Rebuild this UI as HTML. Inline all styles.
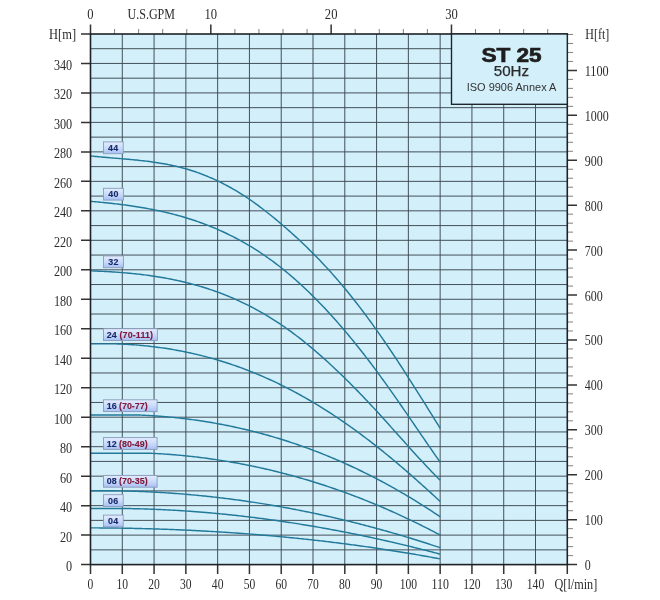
<!DOCTYPE html><html><head><meta charset="utf-8"><style>html,body{margin:0;padding:0;background:#fff;}svg{display:block;will-change:transform}</style></head><body>
<svg width="660" height="600" viewBox="0 0 660 600">
<defs><linearGradient id="lb" x1="0" y1="0" x2="0" y2="1"><stop offset="0" stop-color="#e2ecfd"/><stop offset="0.55" stop-color="#c8d9fa"/><stop offset="1" stop-color="#a6bff3"/></linearGradient></defs>
<rect x="90.5" y="34" width="476.79" height="530.60" fill="#d3effa"/>
<path d="M122.29 34V564.6M154.07 34V564.6M185.86 34V564.6M217.64 34V564.6M249.43 34V564.6M281.22 34V564.6M313.00 34V564.6M344.79 34V564.6M376.57 34V564.6M408.36 34V564.6M440.15 34V564.6M471.93 34V564.6M503.72 34V564.6M535.50 34V564.6M90.5 549.86H567.29M90.5 535.12H567.29M90.5 520.38H567.29M90.5 505.64H567.29M90.5 490.90H567.29M90.5 476.16H567.29M90.5 461.42H567.29M90.5 446.68H567.29M90.5 431.94H567.29M90.5 417.20H567.29M90.5 402.46H567.29M90.5 387.72H567.29M90.5 372.98H567.29M90.5 358.24H567.29M90.5 343.50H567.29M90.5 328.76H567.29M90.5 314.02H567.29M90.5 299.28H567.29M90.5 284.54H567.29M90.5 269.80H567.29M90.5 255.06H567.29M90.5 240.32H567.29M90.5 225.58H567.29M90.5 210.84H567.29M90.5 196.10H567.29M90.5 181.36H567.29M90.5 166.62H567.29M90.5 151.88H567.29M90.5 137.14H567.29M90.5 122.40H567.29M90.5 107.66H567.29M90.5 92.92H567.29M90.5 78.18H567.29M90.5 63.44H567.29M90.5 48.70H567.29" stroke="#3c4850" stroke-width="0.95" fill="none"/>
<g fill="none" stroke="#22799a" stroke-width="1.45" stroke-linejoin="round"><polyline points="90.50,155.93 92.09,156.10 93.68,156.26 95.27,156.42 96.86,156.58 98.45,156.73 100.04,156.88 101.63,157.03 103.21,157.17 104.80,157.31 106.39,157.45 107.98,157.59 109.57,157.72 111.16,157.86 112.75,157.99 114.34,158.12 115.93,158.26 117.52,158.39 119.11,158.52 120.70,158.65 122.29,158.79 123.88,158.92 125.46,159.06 127.05,159.20 128.64,159.34 130.23,159.48 131.82,159.63 133.41,159.78 135.00,159.94 136.59,160.09 138.18,160.26 139.77,160.42 141.36,160.60 142.95,160.77 144.54,160.96 146.13,161.15 147.71,161.34 149.30,161.55 150.89,161.76 152.48,161.97 154.07,162.20 155.66,162.43 157.25,162.67 158.84,162.92 160.43,163.18 162.02,163.45 163.61,163.72 165.20,164.01 166.79,164.31 168.38,164.62 169.97,164.94 171.55,165.27 173.14,165.61 174.73,165.97 176.32,166.33 177.91,166.71 179.50,167.11 181.09,167.51 182.68,167.93 184.27,168.37 185.86,168.81 187.45,169.28 189.04,169.75 190.63,170.25 192.22,170.75 193.80,171.27 195.39,171.81 196.98,172.36 198.57,172.93 200.16,173.51 201.75,174.11 203.34,174.72 204.93,175.35 206.52,175.99 208.11,176.65 209.70,177.32 211.29,178.01 212.88,178.71 214.47,179.43 216.05,180.17 217.64,180.92 219.23,181.69 220.82,182.47 222.41,183.27 224.00,184.08 225.59,184.91 227.18,185.76 228.77,186.62 230.36,187.50 231.95,188.40 233.54,189.31 235.13,190.23 236.72,191.18 238.30,192.14 239.89,193.12 241.48,194.11 243.07,195.12 244.66,196.15 246.25,197.19 247.84,198.25 249.43,199.32 251.02,200.42 252.61,201.53 254.20,202.65 255.79,203.80 257.38,204.95 258.97,206.13 260.56,207.31 262.14,208.52 263.73,209.73 265.32,210.96 266.91,212.21 268.50,213.46 270.09,214.73 271.68,216.02 273.27,217.31 274.86,218.62 276.45,219.93 278.04,221.26 279.63,222.60 281.22,223.95 282.81,225.32 284.39,226.69 285.98,228.07 287.57,229.46 289.16,230.86 290.75,232.28 292.34,233.71 293.93,235.14 295.52,236.59 297.11,238.05 298.70,239.53 300.29,241.01 301.88,242.51 303.47,244.02 305.06,245.55 306.64,247.08 308.23,248.63 309.82,250.20 311.41,251.78 313.00,253.37 314.59,254.97 316.18,256.59 317.77,258.22 319.36,259.87 320.95,261.54 322.54,263.21 324.13,264.91 325.72,266.62 327.31,268.34 328.89,270.08 330.48,271.84 332.07,273.61 333.66,275.40 335.25,277.20 336.84,279.02 338.43,280.86 340.02,282.71 341.61,284.59 343.20,286.48 344.79,288.38 346.38,290.31 347.97,292.25 349.56,294.21 351.15,296.19 352.73,298.19 354.32,300.20 355.91,302.23 357.50,304.27 359.09,306.34 360.68,308.42 362.27,310.51 363.86,312.62 365.45,314.75 367.04,316.90 368.63,319.06 370.22,321.23 371.81,323.42 373.40,325.63 374.98,327.85 376.57,330.09 378.16,332.34 379.75,334.61 381.34,336.89 382.93,339.19 384.52,341.50 386.11,343.82 387.70,346.15 389.29,348.50 390.88,350.86 392.47,353.24 394.06,355.62 395.65,358.02 397.23,360.42 398.82,362.84 400.41,365.27 402.00,367.71 403.59,370.15 405.18,372.61 406.77,375.07 408.36,377.55 409.95,380.03 411.54,382.52 413.13,385.02 414.72,387.52 416.31,390.03 417.90,392.55 419.49,395.08 421.07,397.61 422.66,400.14 424.25,402.69 425.84,405.23 427.43,407.78 429.02,410.34 430.61,412.90 432.20,415.46 433.79,418.02 435.38,420.59 436.97,423.16 438.56,425.73 440.15,428.31"/><polyline points="90.50,201.33 92.09,201.46 93.68,201.60 95.27,201.75 96.86,201.89 98.45,202.04 100.04,202.19 101.63,202.35 103.21,202.50 104.80,202.66 106.39,202.83 107.98,202.99 109.57,203.16 111.16,203.34 112.75,203.51 114.34,203.69 115.93,203.88 117.52,204.07 119.11,204.26 120.70,204.46 122.29,204.66 123.88,204.87 125.46,205.08 127.05,205.29 128.64,205.51 130.23,205.74 131.82,205.97 133.41,206.21 135.00,206.45 136.59,206.69 138.18,206.95 139.77,207.20 141.36,207.47 142.95,207.74 144.54,208.01 146.13,208.30 147.71,208.59 149.30,208.88 150.89,209.18 152.48,209.49 154.07,209.81 155.66,210.13 157.25,210.46 158.84,210.79 160.43,211.14 162.02,211.49 163.61,211.85 165.20,212.21 166.79,212.59 168.38,212.97 169.97,213.36 171.55,213.76 173.14,214.16 174.73,214.58 176.32,215.00 177.91,215.43 179.50,215.87 181.09,216.32 182.68,216.78 184.27,217.25 185.86,217.73 187.45,218.21 189.04,218.71 190.63,219.21 192.22,219.73 193.80,220.25 195.39,220.79 196.98,221.33 198.57,221.89 200.16,222.45 201.75,223.03 203.34,223.62 204.93,224.21 206.52,224.82 208.11,225.44 209.70,226.07 211.29,226.71 212.88,227.36 214.47,228.03 216.05,228.70 217.64,229.39 219.23,230.09 220.82,230.80 222.41,231.52 224.00,232.25 225.59,233.00 227.18,233.76 228.77,234.53 230.36,235.31 231.95,236.11 233.54,236.92 235.13,237.74 236.72,238.58 238.30,239.43 239.89,240.29 241.48,241.16 243.07,242.05 244.66,242.96 246.25,243.87 247.84,244.80 249.43,245.75 251.02,246.71 252.61,247.68 254.20,248.67 255.79,249.67 257.38,250.69 258.97,251.72 260.56,252.76 262.14,253.82 263.73,254.90 265.32,255.99 266.91,257.10 268.50,258.22 270.09,259.36 271.68,260.51 273.27,261.68 274.86,262.87 276.45,264.07 278.04,265.29 279.63,266.52 281.22,267.77 282.81,269.04 284.39,270.32 285.98,271.62 287.57,272.94 289.16,274.27 290.75,275.62 292.34,276.99 293.93,278.37 295.52,279.77 297.11,281.18 298.70,282.61 300.29,284.06 301.88,285.52 303.47,287.00 305.06,288.49 306.64,290.00 308.23,291.52 309.82,293.06 311.41,294.62 313.00,296.19 314.59,297.77 316.18,299.38 317.77,300.99 319.36,302.63 320.95,304.27 322.54,305.94 324.13,307.61 325.72,309.31 327.31,311.01 328.89,312.74 330.48,314.47 332.07,316.23 333.66,317.99 335.25,319.77 336.84,321.57 338.43,323.38 340.02,325.21 341.61,327.05 343.20,328.90 344.79,330.77 346.38,332.65 347.97,334.55 349.56,336.46 351.15,338.38 352.73,340.32 354.32,342.28 355.91,344.24 357.50,346.22 359.09,348.22 360.68,350.23 362.27,352.25 363.86,354.28 365.45,356.33 367.04,358.40 368.63,360.47 370.22,362.56 371.81,364.66 373.40,366.78 374.98,368.91 376.57,371.05 378.16,373.21 379.75,375.38 381.34,377.56 382.93,379.75 384.52,381.95 386.11,384.17 387.70,386.39 389.29,388.62 390.88,390.86 392.47,393.12 394.06,395.38 395.65,397.64 397.23,399.92 398.82,402.20 400.41,404.48 402.00,406.78 403.59,409.08 405.18,411.38 406.77,413.68 408.36,416.00 409.95,418.31 411.54,420.63 413.13,422.94 414.72,425.26 416.31,427.59 417.90,429.91 419.49,432.23 421.07,434.55 422.66,436.88 424.25,439.20 425.84,441.52 427.43,443.83 429.02,446.15 430.61,448.46 432.20,450.76 433.79,453.07 435.38,455.36 436.97,457.66 438.56,459.94 440.15,462.22"/><polyline points="90.50,270.85 92.09,270.90 93.68,270.96 95.27,271.03 96.86,271.09 98.45,271.16 100.04,271.23 101.63,271.31 103.21,271.38 104.80,271.47 106.39,271.55 107.98,271.64 109.57,271.73 111.16,271.83 112.75,271.93 114.34,272.03 115.93,272.14 117.52,272.25 119.11,272.37 120.70,272.49 122.29,272.62 123.88,272.75 125.46,272.88 127.05,273.02 128.64,273.17 130.23,273.32 131.82,273.47 133.41,273.63 135.00,273.80 136.59,273.97 138.18,274.14 139.77,274.32 141.36,274.51 142.95,274.70 144.54,274.90 146.13,275.11 147.71,275.32 149.30,275.54 150.89,275.76 152.48,275.99 154.07,276.23 155.66,276.47 157.25,276.72 158.84,276.98 160.43,277.24 162.02,277.51 163.61,277.79 165.20,278.07 166.79,278.36 168.38,278.66 169.97,278.97 171.55,279.28 173.14,279.60 174.73,279.93 176.32,280.27 177.91,280.61 179.50,280.97 181.09,281.33 182.68,281.70 184.27,282.07 185.86,282.46 187.45,282.86 189.04,283.26 190.63,283.67 192.22,284.09 193.80,284.52 195.39,284.96 196.98,285.41 198.57,285.86 200.16,286.33 201.75,286.81 203.34,287.29 204.93,287.79 206.52,288.29 208.11,288.80 209.70,289.33 211.29,289.86 212.88,290.41 214.47,290.96 216.05,291.53 217.64,292.10 219.23,292.69 220.82,293.28 222.41,293.89 224.00,294.51 225.59,295.13 227.18,295.77 228.77,296.42 230.36,297.09 231.95,297.76 233.54,298.44 235.13,299.14 236.72,299.85 238.30,300.56 239.89,301.30 241.48,302.04 243.07,302.79 244.66,303.56 246.25,304.34 247.84,305.13 249.43,305.93 251.02,306.75 252.61,307.57 254.20,308.41 255.79,309.27 257.38,310.13 258.97,311.01 260.56,311.91 262.14,312.81 263.73,313.73 265.32,314.66 266.91,315.61 268.50,316.56 270.09,317.54 271.68,318.52 273.27,319.52 274.86,320.54 276.45,321.56 278.04,322.61 279.63,323.66 281.22,324.73 282.81,325.82 284.39,326.92 285.98,328.03 287.57,329.16 289.16,330.30 290.75,331.45 292.34,332.62 293.93,333.80 295.52,335.00 297.11,336.21 298.70,337.43 300.29,338.66 301.88,339.91 303.47,341.17 305.06,342.45 306.64,343.73 308.23,345.03 309.82,346.34 311.41,347.67 313.00,349.00 314.59,350.35 316.18,351.71 317.77,353.08 319.36,354.47 320.95,355.86 322.54,357.27 324.13,358.68 325.72,360.11 327.31,361.55 328.89,363.00 330.48,364.47 332.07,365.94 333.66,367.42 335.25,368.92 336.84,370.42 338.43,371.93 340.02,373.46 341.61,374.99 343.20,376.54 344.79,378.09 346.38,379.66 347.97,381.23 349.56,382.81 351.15,384.41 352.73,386.01 354.32,387.62 355.91,389.24 357.50,390.87 359.09,392.50 360.68,394.15 362.27,395.80 363.86,397.47 365.45,399.14 367.04,400.82 368.63,402.51 370.22,404.20 371.81,405.90 373.40,407.62 374.98,409.33 376.57,411.06 378.16,412.79 379.75,414.53 381.34,416.28 382.93,418.03 384.52,419.79 386.11,421.55 387.70,423.32 389.29,425.09 390.88,426.86 392.47,428.63 394.06,430.41 395.65,432.19 397.23,433.97 398.82,435.75 400.41,437.52 402.00,439.30 403.59,441.08 405.18,442.85 406.77,444.62 408.36,446.39 409.95,448.16 411.54,449.92 413.13,451.67 414.72,453.42 416.31,455.17 417.90,456.91 419.49,458.64 421.07,460.36 422.66,462.08 424.25,463.78 425.84,465.48 427.43,467.17 429.02,468.85 430.61,470.51 432.20,472.17 433.79,473.81 435.38,475.44 436.97,477.06 438.56,478.67 440.15,480.26"/><polyline points="90.50,343.86 92.09,343.86 93.68,343.86 95.27,343.86 96.86,343.86 98.45,343.86 100.04,343.86 101.63,343.86 103.21,343.86 104.80,343.86 106.39,343.86 107.98,343.86 109.57,343.86 111.16,343.86 112.75,343.86 114.34,343.86 115.93,343.89 117.52,343.94 119.11,344.00 120.70,344.06 122.29,344.13 123.88,344.20 125.46,344.28 127.05,344.37 128.64,344.46 130.23,344.56 131.82,344.67 133.41,344.78 135.00,344.90 136.59,345.02 138.18,345.15 139.77,345.29 141.36,345.43 142.95,345.58 144.54,345.73 146.13,345.89 147.71,346.06 149.30,346.23 150.89,346.41 152.48,346.60 154.07,346.79 155.66,346.99 157.25,347.20 158.84,347.41 160.43,347.63 162.02,347.85 163.61,348.09 165.20,348.32 166.79,348.57 168.38,348.82 169.97,349.08 171.55,349.34 173.14,349.62 174.73,349.89 176.32,350.18 177.91,350.47 179.50,350.77 181.09,351.07 182.68,351.39 184.27,351.71 185.86,352.03 187.45,352.36 189.04,352.70 190.63,353.05 192.22,353.40 193.80,353.76 195.39,354.13 196.98,354.51 198.57,354.89 200.16,355.28 201.75,355.67 203.34,356.08 204.93,356.49 206.52,356.90 208.11,357.33 209.70,357.76 211.29,358.20 212.88,358.64 214.47,359.10 216.05,359.56 217.64,360.03 219.23,360.50 220.82,360.98 222.41,361.47 224.00,361.97 225.59,362.48 227.18,362.99 228.77,363.51 230.36,364.04 231.95,364.57 233.54,365.11 235.13,365.66 236.72,366.22 238.30,366.79 239.89,367.36 241.48,367.94 243.07,368.53 244.66,369.12 246.25,369.73 247.84,370.34 249.43,370.96 251.02,371.58 252.61,372.22 254.20,372.86 255.79,373.51 257.38,374.17 258.97,374.84 260.56,375.51 262.14,376.19 263.73,376.88 265.32,377.58 266.91,378.29 268.50,379.00 270.09,379.72 271.68,380.45 273.27,381.19 274.86,381.94 276.45,382.69 278.04,383.46 279.63,384.23 281.22,385.01 282.81,385.79 284.39,386.59 285.98,387.39 287.57,388.20 289.16,389.02 290.75,389.85 292.34,390.69 293.93,391.53 295.52,392.39 297.11,393.25 298.70,394.12 300.29,394.99 301.88,395.88 303.47,396.77 305.06,397.67 306.64,398.58 308.23,399.50 309.82,400.43 311.41,401.36 313.00,402.30 314.59,403.25 316.18,404.21 317.77,405.17 319.36,406.15 320.95,407.13 322.54,408.12 324.13,409.11 325.72,410.12 327.31,411.13 328.89,412.15 330.48,413.18 332.07,414.22 333.66,415.26 335.25,416.31 336.84,417.37 338.43,418.44 340.02,419.51 341.61,420.60 343.20,421.69 344.79,422.78 346.38,423.89 347.97,425.00 349.56,426.13 351.15,427.25 352.73,428.39 354.32,429.53 355.91,430.69 357.50,431.85 359.09,433.01 360.68,434.19 362.27,435.37 363.86,436.56 365.45,437.76 367.04,438.96 368.63,440.17 370.22,441.39 371.81,442.62 373.40,443.86 374.98,445.10 376.57,446.35 378.16,447.60 379.75,448.87 381.34,450.14 382.93,451.42 384.52,452.70 386.11,454.00 387.70,455.30 389.29,456.60 390.88,457.92 392.47,459.24 394.06,460.56 395.65,461.89 397.23,463.23 398.82,464.58 400.41,465.93 402.00,467.29 403.59,468.65 405.18,470.02 406.77,471.39 408.36,472.78 409.95,474.16 411.54,475.55 413.13,476.95 414.72,478.35 416.31,479.76 417.90,481.17 419.49,482.59 421.07,484.01 422.66,485.44 424.25,486.87 425.84,488.31 427.43,489.75 429.02,491.20 430.61,492.65 432.20,494.10 433.79,495.56 435.38,497.03 436.97,498.49 438.56,499.96 440.15,501.44"/><polyline points="90.50,415.01 92.09,415.01 93.68,415.01 95.27,415.01 96.86,415.01 98.45,415.01 100.04,415.01 101.63,415.01 103.21,415.01 104.80,415.01 106.39,415.01 107.98,415.01 109.57,415.01 111.16,415.01 112.75,415.01 114.34,415.01 115.93,415.01 117.52,415.01 119.11,415.01 120.70,415.01 122.29,415.01 123.88,415.01 125.46,415.01 127.05,415.01 128.64,415.01 130.23,415.01 131.82,415.01 133.41,415.01 135.00,415.01 136.59,415.01 138.18,415.01 139.77,415.05 141.36,415.11 142.95,415.19 144.54,415.26 146.13,415.35 147.71,415.43 149.30,415.52 150.89,415.62 152.48,415.72 154.07,415.82 155.66,415.93 157.25,416.04 158.84,416.16 160.43,416.28 162.02,416.40 163.61,416.53 165.20,416.67 166.79,416.80 168.38,416.95 169.97,417.10 171.55,417.25 173.14,417.40 174.73,417.57 176.32,417.73 177.91,417.90 179.50,418.08 181.09,418.26 182.68,418.44 184.27,418.63 185.86,418.82 187.45,419.02 189.04,419.22 190.63,419.43 192.22,419.64 193.80,419.86 195.39,420.08 196.98,420.31 198.57,420.54 200.16,420.77 201.75,421.01 203.34,421.26 204.93,421.51 206.52,421.76 208.11,422.02 209.70,422.29 211.29,422.56 212.88,422.83 214.47,423.11 216.05,423.39 217.64,423.68 219.23,423.97 220.82,424.27 222.41,424.57 224.00,424.88 225.59,425.19 227.18,425.51 228.77,425.83 230.36,426.16 231.95,426.49 233.54,426.83 235.13,427.17 236.72,427.51 238.30,427.87 239.89,428.22 241.48,428.59 243.07,428.95 244.66,429.32 246.25,429.70 247.84,430.08 249.43,430.47 251.02,430.86 252.61,431.26 254.20,431.66 255.79,432.07 257.38,432.48 258.97,432.90 260.56,433.32 262.14,433.75 263.73,434.18 265.32,434.62 266.91,435.06 268.50,435.51 270.09,435.96 271.68,436.42 273.27,436.89 274.86,437.36 276.45,437.83 278.04,438.31 279.63,438.79 281.22,439.28 282.81,439.78 284.39,440.28 285.98,440.79 287.57,441.30 289.16,441.81 290.75,442.34 292.34,442.86 293.93,443.40 295.52,443.93 297.11,444.48 298.70,445.03 300.29,445.58 301.88,446.14 303.47,446.71 305.06,447.28 306.64,447.85 308.23,448.43 309.82,449.02 311.41,449.61 313.00,450.21 314.59,450.81 316.18,451.42 317.77,452.04 319.36,452.66 320.95,453.28 322.54,453.91 324.13,454.55 325.72,455.19 327.31,455.84 328.89,456.49 330.48,457.15 332.07,457.82 333.66,458.49 335.25,459.16 336.84,459.84 338.43,460.53 340.02,461.22 341.61,461.92 343.20,462.63 344.79,463.34 346.38,464.05 347.97,464.77 349.56,465.50 351.15,466.23 352.73,466.97 354.32,467.71 355.91,468.46 357.50,469.22 359.09,469.98 360.68,470.75 362.27,471.52 363.86,472.30 365.45,473.09 367.04,473.88 368.63,474.67 370.22,475.48 371.81,476.29 373.40,477.10 374.98,477.92 376.57,478.75 378.16,479.58 379.75,480.42 381.34,481.26 382.93,482.11 384.52,482.97 386.11,483.83 387.70,484.70 389.29,485.57 390.88,486.45 392.47,487.34 394.06,488.23 395.65,489.13 397.23,490.03 398.82,490.94 400.41,491.86 402.00,492.78 403.59,493.71 405.18,494.64 406.77,495.58 408.36,496.53 409.95,497.48 411.54,498.44 413.13,499.41 414.72,500.38 416.31,501.36 417.90,502.34 419.49,503.33 421.07,504.33 422.66,505.33 424.25,506.34 425.84,507.36 427.43,508.38 429.02,509.41 430.61,510.44 432.20,511.48 433.79,512.53 435.38,513.58 436.97,514.64 438.56,515.70 440.15,516.78"/><polyline points="90.50,453.24 92.09,453.24 93.68,453.24 95.27,453.24 96.86,453.24 98.45,453.24 100.04,453.24 101.63,453.24 103.21,453.24 104.80,453.24 106.39,453.24 107.98,453.24 109.57,453.24 111.16,453.24 112.75,453.24 114.34,453.24 115.93,453.24 117.52,453.24 119.11,453.24 120.70,453.24 122.29,453.24 123.88,453.24 125.46,453.24 127.05,453.24 128.64,453.24 130.23,453.24 131.82,453.24 133.41,453.24 135.00,453.24 136.59,453.24 138.18,453.24 139.77,453.24 141.36,453.24 142.95,453.24 144.54,453.24 146.13,453.24 147.71,453.24 149.30,453.24 150.89,453.28 152.48,453.35 154.07,453.43 155.66,453.52 157.25,453.61 158.84,453.70 160.43,453.79 162.02,453.89 163.61,453.99 165.20,454.10 166.79,454.21 168.38,454.33 169.97,454.45 171.55,454.57 173.14,454.70 174.73,454.83 176.32,454.96 177.91,455.10 179.50,455.24 181.09,455.39 182.68,455.54 184.27,455.69 185.86,455.85 187.45,456.01 189.04,456.18 190.63,456.35 192.22,456.53 193.80,456.70 195.39,456.89 196.98,457.07 198.57,457.26 200.16,457.46 201.75,457.66 203.34,457.86 204.93,458.06 206.52,458.27 208.11,458.49 209.70,458.71 211.29,458.93 212.88,459.16 214.47,459.39 216.05,459.62 217.64,459.86 219.23,460.10 220.82,460.35 222.41,460.60 224.00,460.86 225.59,461.11 227.18,461.38 228.77,461.64 230.36,461.92 231.95,462.19 233.54,462.47 235.13,462.75 236.72,463.04 238.30,463.33 239.89,463.63 241.48,463.93 243.07,464.23 244.66,464.54 246.25,464.85 247.84,465.17 249.43,465.49 251.02,465.81 252.61,466.14 254.20,466.48 255.79,466.81 257.38,467.15 258.97,467.50 260.56,467.85 262.14,468.20 263.73,468.56 265.32,468.92 266.91,469.29 268.50,469.66 270.09,470.03 271.68,470.41 273.27,470.79 274.86,471.18 276.45,471.57 278.04,471.97 279.63,472.37 281.22,472.77 282.81,473.18 284.39,473.59 285.98,474.01 287.57,474.43 289.16,474.85 290.75,475.28 292.34,475.72 293.93,476.15 295.52,476.60 297.11,477.04 298.70,477.49 300.29,477.95 301.88,478.41 303.47,478.87 305.06,479.34 306.64,479.81 308.23,480.28 309.82,480.76 311.41,481.25 313.00,481.74 314.59,482.23 316.18,482.73 317.77,483.23 319.36,483.73 320.95,484.25 322.54,484.76 324.13,485.28 325.72,485.80 327.31,486.33 328.89,486.86 330.48,487.40 332.07,487.94 333.66,488.48 335.25,489.03 336.84,489.59 338.43,490.14 340.02,490.71 341.61,491.27 343.20,491.84 344.79,492.42 346.38,493.00 347.97,493.58 349.56,494.17 351.15,494.76 352.73,495.36 354.32,495.96 355.91,496.57 357.50,497.18 359.09,497.79 360.68,498.41 362.27,499.04 363.86,499.66 365.45,500.30 367.04,500.93 368.63,501.57 370.22,502.22 371.81,502.87 373.40,503.52 374.98,504.18 376.57,504.85 378.16,505.51 379.75,506.19 381.34,506.86 382.93,507.54 384.52,508.23 386.11,508.92 387.70,509.61 389.29,510.31 390.88,511.02 392.47,511.73 394.06,512.44 395.65,513.15 397.23,513.88 398.82,514.60 400.41,515.33 402.00,516.07 403.59,516.81 405.18,517.55 406.77,518.30 408.36,519.05 409.95,519.81 411.54,520.57 413.13,521.34 414.72,522.11 416.31,522.89 417.90,523.67 419.49,524.45 421.07,525.24 422.66,526.03 424.25,526.83 425.84,527.64 427.43,528.44 429.02,529.26 430.61,530.07 432.20,530.89 433.79,531.72 435.38,532.55 436.97,533.38 438.56,534.22 440.15,535.07"/><polyline points="90.50,490.78 92.09,490.78 93.68,490.78 95.27,490.78 96.86,490.78 98.45,490.78 100.04,490.78 101.63,490.78 103.21,490.78 104.80,490.78 106.39,490.78 107.98,490.78 109.57,490.78 111.16,490.78 112.75,490.78 114.34,490.80 115.93,490.82 117.52,490.85 119.11,490.87 120.70,490.90 122.29,490.93 123.88,490.97 125.46,491.01 127.05,491.05 128.64,491.09 130.23,491.13 131.82,491.18 133.41,491.23 135.00,491.28 136.59,491.34 138.18,491.39 139.77,491.45 141.36,491.51 142.95,491.58 144.54,491.65 146.13,491.72 147.71,491.79 149.30,491.86 150.89,491.94 152.48,492.02 154.07,492.10 155.66,492.19 157.25,492.28 158.84,492.37 160.43,492.46 162.02,492.56 163.61,492.65 165.20,492.75 166.79,492.86 168.38,492.96 169.97,493.07 171.55,493.18 173.14,493.29 174.73,493.41 176.32,493.53 177.91,493.65 179.50,493.77 181.09,493.90 182.68,494.02 184.27,494.15 185.86,494.29 187.45,494.42 189.04,494.56 190.63,494.70 192.22,494.85 193.80,494.99 195.39,495.14 196.98,495.29 198.57,495.44 200.16,495.60 201.75,495.76 203.34,495.92 204.93,496.08 206.52,496.25 208.11,496.42 209.70,496.59 211.29,496.76 212.88,496.94 214.47,497.12 216.05,497.30 217.64,497.48 219.23,497.67 220.82,497.85 222.41,498.05 224.00,498.24 225.59,498.44 227.18,498.63 228.77,498.83 230.36,499.04 231.95,499.24 233.54,499.45 235.13,499.66 236.72,499.88 238.30,500.09 239.89,500.31 241.48,500.53 243.07,500.76 244.66,500.98 246.25,501.21 247.84,501.44 249.43,501.68 251.02,501.91 252.61,502.15 254.20,502.39 255.79,502.64 257.38,502.88 258.97,503.13 260.56,503.38 262.14,503.64 263.73,503.89 265.32,504.15 266.91,504.41 268.50,504.68 270.09,504.94 271.68,505.21 273.27,505.48 274.86,505.76 276.45,506.03 278.04,506.31 279.63,506.59 281.22,506.88 282.81,507.16 284.39,507.45 285.98,507.74 287.57,508.03 289.16,508.33 290.75,508.63 292.34,508.93 293.93,509.23 295.52,509.54 297.11,509.85 298.70,510.16 300.29,510.47 301.88,510.79 303.47,511.11 305.06,511.43 306.64,511.75 308.23,512.08 309.82,512.40 311.41,512.74 313.00,513.07 314.59,513.40 316.18,513.74 317.77,514.08 319.36,514.43 320.95,514.77 322.54,515.12 324.13,515.47 325.72,515.82 327.31,516.18 328.89,516.54 330.48,516.90 332.07,517.26 333.66,517.63 335.25,517.99 336.84,518.37 338.43,518.74 340.02,519.11 341.61,519.49 343.20,519.87 344.79,520.25 346.38,520.64 347.97,521.03 349.56,521.42 351.15,521.81 352.73,522.20 354.32,522.60 355.91,523.00 357.50,523.40 359.09,523.81 360.68,524.22 362.27,524.63 363.86,525.04 365.45,525.45 367.04,525.87 368.63,526.29 370.22,526.71 371.81,527.14 373.40,527.56 374.98,527.99 376.57,528.43 378.16,528.86 379.75,529.30 381.34,529.74 382.93,530.18 384.52,530.62 386.11,531.07 387.70,531.52 389.29,531.97 390.88,532.42 392.47,532.88 394.06,533.34 395.65,533.80 397.23,534.27 398.82,534.73 400.41,535.20 402.00,535.67 403.59,536.15 405.18,536.62 406.77,537.10 408.36,537.58 409.95,538.06 411.54,538.55 413.13,539.04 414.72,539.53 416.31,540.02 417.90,540.52 419.49,541.02 421.07,541.52 422.66,542.02 424.25,542.53 425.84,543.03 427.43,543.54 429.02,544.06 430.61,544.57 432.20,545.09 433.79,545.61 435.38,546.13 436.97,546.66 438.56,547.18 440.15,547.71"/><polyline points="90.50,508.56 92.09,508.56 93.68,508.56 95.27,508.56 96.86,508.56 98.45,508.56 100.04,508.56 101.63,508.56 103.21,508.56 104.80,508.56 106.39,508.56 107.98,508.56 109.57,508.56 111.16,508.56 112.75,508.56 114.34,508.56 115.93,508.56 117.52,508.56 119.11,508.56 120.70,508.56 122.29,508.56 123.88,508.56 125.46,508.56 127.05,508.56 128.64,508.57 130.23,508.59 131.82,508.63 133.41,508.66 135.00,508.69 136.59,508.73 138.18,508.77 139.77,508.81 141.36,508.86 142.95,508.90 144.54,508.95 146.13,509.00 147.71,509.06 149.30,509.11 150.89,509.17 152.48,509.23 154.07,509.29 155.66,509.36 157.25,509.42 158.84,509.49 160.43,509.56 162.02,509.64 163.61,509.71 165.20,509.79 166.79,509.87 168.38,509.95 169.97,510.03 171.55,510.12 173.14,510.21 174.73,510.30 176.32,510.39 177.91,510.49 179.50,510.58 181.09,510.68 182.68,510.79 184.27,510.89 185.86,511.00 187.45,511.10 189.04,511.21 190.63,511.33 192.22,511.44 193.80,511.56 195.39,511.68 196.98,511.80 198.57,511.92 200.16,512.05 201.75,512.17 203.34,512.30 204.93,512.43 206.52,512.57 208.11,512.70 209.70,512.84 211.29,512.98 212.88,513.12 214.47,513.27 216.05,513.42 217.64,513.56 219.23,513.71 220.82,513.87 222.41,514.02 224.00,514.18 225.59,514.34 227.18,514.50 228.77,514.66 230.36,514.83 231.95,515.00 233.54,515.17 235.13,515.34 236.72,515.51 238.30,515.69 239.89,515.87 241.48,516.05 243.07,516.23 244.66,516.41 246.25,516.60 247.84,516.79 249.43,516.98 251.02,517.17 252.61,517.37 254.20,517.56 255.79,517.76 257.38,517.96 258.97,518.16 260.56,518.37 262.14,518.58 263.73,518.79 265.32,519.00 266.91,519.21 268.50,519.42 270.09,519.64 271.68,519.86 273.27,520.08 274.86,520.31 276.45,520.53 278.04,520.76 279.63,520.99 281.22,521.22 282.81,521.45 284.39,521.69 285.98,521.92 287.57,522.16 289.16,522.41 290.75,522.65 292.34,522.89 293.93,523.14 295.52,523.39 297.11,523.64 298.70,523.90 300.29,524.15 301.88,524.41 303.47,524.67 305.06,524.93 306.64,525.19 308.23,525.46 309.82,525.72 311.41,525.99 313.00,526.26 314.59,526.54 316.18,526.81 317.77,527.09 319.36,527.37 320.95,527.65 322.54,527.93 324.13,528.22 325.72,528.50 327.31,528.79 328.89,529.08 330.48,529.38 332.07,529.67 333.66,529.97 335.25,530.27 336.84,530.57 338.43,530.87 340.02,531.17 341.61,531.48 343.20,531.79 344.79,532.10 346.38,532.41 347.97,532.72 349.56,533.04 351.15,533.35 352.73,533.67 354.32,534.00 355.91,534.32 357.50,534.64 359.09,534.97 360.68,535.30 362.27,535.63 363.86,535.96 365.45,536.30 367.04,536.63 368.63,536.97 370.22,537.31 371.81,537.65 373.40,538.00 374.98,538.34 376.57,538.69 378.16,539.04 379.75,539.39 381.34,539.75 382.93,540.10 384.52,540.46 386.11,540.82 387.70,541.18 389.29,541.54 390.88,541.91 392.47,542.27 394.06,542.64 395.65,543.01 397.23,543.38 398.82,543.75 400.41,544.13 402.00,544.51 403.59,544.89 405.18,545.27 406.77,545.65 408.36,546.03 409.95,546.42 411.54,546.81 413.13,547.20 414.72,547.59 416.31,547.98 417.90,548.38 419.49,548.78 421.07,549.18 422.66,549.58 424.25,549.98 425.84,550.38 427.43,550.79 429.02,551.20 430.61,551.61 432.20,552.02 433.79,552.43 435.38,552.85 436.97,553.26 438.56,553.68 440.15,554.10"/><polyline points="90.50,527.86 92.09,527.86 93.68,527.87 95.27,527.87 96.86,527.88 98.45,527.89 100.04,527.90 101.63,527.91 103.21,527.93 104.80,527.94 106.39,527.95 107.98,527.97 109.57,527.99 111.16,528.00 112.75,528.02 114.34,528.04 115.93,528.06 117.52,528.09 119.11,528.11 120.70,528.14 122.29,528.16 123.88,528.19 125.46,528.22 127.05,528.24 128.64,528.27 130.23,528.31 131.82,528.34 133.41,528.37 135.00,528.41 136.59,528.44 138.18,528.48 139.77,528.52 141.36,528.56 142.95,528.60 144.54,528.64 146.13,528.68 147.71,528.72 149.30,528.77 150.89,528.81 152.48,528.86 154.07,528.91 155.66,528.96 157.25,529.01 158.84,529.06 160.43,529.11 162.02,529.17 163.61,529.22 165.20,529.28 166.79,529.34 168.38,529.40 169.97,529.46 171.55,529.52 173.14,529.58 174.73,529.64 176.32,529.71 177.91,529.77 179.50,529.84 181.09,529.91 182.68,529.98 184.27,530.05 185.86,530.12 187.45,530.19 189.04,530.27 190.63,530.34 192.22,530.42 193.80,530.50 195.39,530.58 196.98,530.66 198.57,530.74 200.16,530.82 201.75,530.91 203.34,530.99 204.93,531.08 206.52,531.17 208.11,531.26 209.70,531.35 211.29,531.44 212.88,531.53 214.47,531.63 216.05,531.72 217.64,531.82 219.23,531.91 220.82,532.01 222.41,532.11 224.00,532.22 225.59,532.32 227.18,532.42 228.77,532.53 230.36,532.63 231.95,532.74 233.54,532.85 235.13,532.96 236.72,533.07 238.30,533.19 239.89,533.30 241.48,533.42 243.07,533.53 244.66,533.65 246.25,533.77 247.84,533.89 249.43,534.02 251.02,534.14 252.61,534.26 254.20,534.39 255.79,534.52 257.38,534.65 258.97,534.78 260.56,534.91 262.14,535.04 263.73,535.17 265.32,535.31 266.91,535.45 268.50,535.58 270.09,535.72 271.68,535.86 273.27,536.01 274.86,536.15 276.45,536.29 278.04,536.44 279.63,536.59 281.22,536.74 282.81,536.89 284.39,537.04 285.98,537.19 287.57,537.35 289.16,537.50 290.75,537.66 292.34,537.82 293.93,537.98 295.52,538.14 297.11,538.30 298.70,538.46 300.29,538.63 301.88,538.80 303.47,538.96 305.06,539.13 306.64,539.30 308.23,539.48 309.82,539.65 311.41,539.83 313.00,540.00 314.59,540.18 316.18,540.36 317.77,540.54 319.36,540.72 320.95,540.90 322.54,541.09 324.13,541.28 325.72,541.46 327.31,541.65 328.89,541.84 330.48,542.04 332.07,542.23 333.66,542.42 335.25,542.62 336.84,542.82 338.43,543.02 340.02,543.22 341.61,543.42 343.20,543.62 344.79,543.83 346.38,544.04 347.97,544.24 349.56,544.45 351.15,544.66 352.73,544.88 354.32,545.09 355.91,545.31 357.50,545.52 359.09,545.74 360.68,545.96 362.27,546.18 363.86,546.40 365.45,546.63 367.04,546.85 368.63,547.08 370.22,547.31 371.81,547.54 373.40,547.77 374.98,548.00 376.57,548.24 378.16,548.48 379.75,548.71 381.34,548.95 382.93,549.19 384.52,549.44 386.11,549.68 387.70,549.92 389.29,550.17 390.88,550.42 392.47,550.67 394.06,550.92 395.65,551.17 397.23,551.43 398.82,551.68 400.41,551.94 402.00,552.20 403.59,552.46 405.18,552.72 406.77,552.99 408.36,553.25 409.95,553.52 411.54,553.79 413.13,554.06 414.72,554.33 416.31,554.60 417.90,554.88 419.49,555.15 421.07,555.43 422.66,555.71 424.25,555.99 425.84,556.27 427.43,556.56 429.02,556.84 430.61,557.13 432.20,557.42 433.79,557.71 435.38,558.00 436.97,558.30 438.56,558.59 440.15,558.89"/></g>
<path d="M81 564.60H90.5M81 535.12H90.5M81 505.64H90.5M81 476.16H90.5M81 446.68H90.5M81 417.20H90.5M81 387.72H90.5M81 358.24H90.5M81 328.76H90.5M81 299.28H90.5M81 269.80H90.5M81 240.32H90.5M81 210.84H90.5M81 181.36H90.5M81 151.88H90.5M81 122.40H90.5M81 92.92H90.5M81 63.44H90.5M81 33.96H90.5M90.50 564.6V574M122.29 564.6V574M154.07 564.6V574M185.86 564.6V574M217.64 564.6V574M249.43 564.6V574M281.22 564.6V574M313.00 564.6V574M344.79 564.6V574M376.57 564.6V574M408.36 564.6V574M440.15 564.6V574M471.93 564.6V574M503.72 564.6V574M535.50 564.6V574M567.29 564.6V574M567.29 564.60H577M567.29 519.67H577M567.29 474.74H577M567.29 429.82H577M567.29 384.89H577M567.29 339.96H577M567.29 295.03H577M567.29 250.11H577M567.29 205.18H577M567.29 160.25H577M567.29 115.32H577M567.29 70.40H577M90.50 34V24.5M210.82 34V24.5M331.15 34V24.5M451.47 34V24.5" stroke="#333" stroke-width="1.5" fill="none"/>
<path d="M567.29 555.61H573M567.29 546.63H573M567.29 537.64H573M567.29 528.66H573M567.29 510.69H573M567.29 501.70H573M567.29 492.72H573M567.29 483.73H573M567.29 465.76H573M567.29 456.77H573M567.29 447.79H573M567.29 438.80H573M567.29 420.83H573M567.29 411.85H573M567.29 402.86H573M567.29 393.88H573M567.29 375.90H573M567.29 366.92H573M567.29 357.93H573M567.29 348.95H573M567.29 330.98H573M567.29 321.99H573M567.29 313.01H573M567.29 304.02H573M567.29 286.05H573M567.29 277.06H573M567.29 268.08H573M567.29 259.09H573M567.29 241.12H573M567.29 232.14H573M567.29 223.15H573M567.29 214.17H573M567.29 196.19H573M567.29 187.21H573M567.29 178.22H573M567.29 169.24H573M567.29 151.27H573M567.29 142.28H573M567.29 133.30H573M567.29 124.31H573M567.29 106.34H573M567.29 97.35H573M567.29 88.37H573M567.29 79.38H573M567.29 61.41H573M567.29 52.43H573M567.29 43.44H573M567.29 34.46H573M114.56 34V29M138.63 34V29M162.69 34V29M186.76 34V29M234.89 34V29M258.95 34V29M283.02 34V29M307.08 34V29M355.21 34V29M379.28 34V29M403.34 34V29M427.40 34V29M475.53 34V29M499.60 34V29M523.66 34V29M547.73 34V29" stroke="#808080" stroke-width="1" fill="none"/>
<rect x="90.5" y="34" width="476.79" height="530.60" fill="none" stroke="#1c2226" stroke-width="1.6"/>
<text x="66.10" y="571.00" font-family="'Liberation Serif', serif" font-size="14.89" font-weight="normal" fill="#2c2c2c" textLength="6.10" lengthAdjust="spacingAndGlyphs" >0</text>
<text x="60.00" y="541.52" font-family="'Liberation Serif', serif" font-size="14.89" font-weight="normal" fill="#2c2c2c" textLength="12.20" lengthAdjust="spacingAndGlyphs" >20</text>
<text x="60.00" y="512.04" font-family="'Liberation Serif', serif" font-size="14.89" font-weight="normal" fill="#2c2c2c" textLength="12.20" lengthAdjust="spacingAndGlyphs" >40</text>
<text x="60.00" y="482.56" font-family="'Liberation Serif', serif" font-size="14.89" font-weight="normal" fill="#2c2c2c" textLength="12.20" lengthAdjust="spacingAndGlyphs" >60</text>
<text x="60.00" y="453.08" font-family="'Liberation Serif', serif" font-size="14.89" font-weight="normal" fill="#2c2c2c" textLength="12.20" lengthAdjust="spacingAndGlyphs" >80</text>
<text x="53.90" y="423.60" font-family="'Liberation Serif', serif" font-size="14.89" font-weight="normal" fill="#2c2c2c" textLength="18.30" lengthAdjust="spacingAndGlyphs" >100</text>
<text x="53.90" y="394.12" font-family="'Liberation Serif', serif" font-size="14.89" font-weight="normal" fill="#2c2c2c" textLength="18.30" lengthAdjust="spacingAndGlyphs" >120</text>
<text x="53.90" y="364.64" font-family="'Liberation Serif', serif" font-size="14.89" font-weight="normal" fill="#2c2c2c" textLength="18.30" lengthAdjust="spacingAndGlyphs" >140</text>
<text x="53.90" y="335.16" font-family="'Liberation Serif', serif" font-size="14.89" font-weight="normal" fill="#2c2c2c" textLength="18.30" lengthAdjust="spacingAndGlyphs" >160</text>
<text x="53.90" y="305.68" font-family="'Liberation Serif', serif" font-size="14.89" font-weight="normal" fill="#2c2c2c" textLength="18.30" lengthAdjust="spacingAndGlyphs" >180</text>
<text x="53.90" y="276.20" font-family="'Liberation Serif', serif" font-size="14.89" font-weight="normal" fill="#2c2c2c" textLength="18.30" lengthAdjust="spacingAndGlyphs" >200</text>
<text x="53.90" y="246.72" font-family="'Liberation Serif', serif" font-size="14.89" font-weight="normal" fill="#2c2c2c" textLength="18.30" lengthAdjust="spacingAndGlyphs" >220</text>
<text x="53.90" y="217.24" font-family="'Liberation Serif', serif" font-size="14.89" font-weight="normal" fill="#2c2c2c" textLength="18.30" lengthAdjust="spacingAndGlyphs" >240</text>
<text x="53.90" y="187.76" font-family="'Liberation Serif', serif" font-size="14.89" font-weight="normal" fill="#2c2c2c" textLength="18.30" lengthAdjust="spacingAndGlyphs" >260</text>
<text x="53.90" y="158.28" font-family="'Liberation Serif', serif" font-size="14.89" font-weight="normal" fill="#2c2c2c" textLength="18.30" lengthAdjust="spacingAndGlyphs" >280</text>
<text x="53.90" y="128.80" font-family="'Liberation Serif', serif" font-size="14.89" font-weight="normal" fill="#2c2c2c" textLength="18.30" lengthAdjust="spacingAndGlyphs" >300</text>
<text x="53.90" y="99.32" font-family="'Liberation Serif', serif" font-size="14.89" font-weight="normal" fill="#2c2c2c" textLength="18.30" lengthAdjust="spacingAndGlyphs" >320</text>
<text x="53.90" y="69.84" font-family="'Liberation Serif', serif" font-size="14.89" font-weight="normal" fill="#2c2c2c" textLength="18.30" lengthAdjust="spacingAndGlyphs" >340</text>
<text x="49.10" y="39.20" font-family="'Liberation Serif', serif" font-size="15.19" font-weight="normal" fill="#2c2c2c" textLength="27.00" lengthAdjust="spacingAndGlyphs" >H[m]</text>
<text x="87.60" y="589.10" font-family="'Liberation Serif', serif" font-size="15.04" font-weight="normal" fill="#2c2c2c" textLength="5.80" lengthAdjust="spacingAndGlyphs" >0</text>
<text x="116.49" y="589.10" font-family="'Liberation Serif', serif" font-size="15.04" font-weight="normal" fill="#2c2c2c" textLength="11.60" lengthAdjust="spacingAndGlyphs" >10</text>
<text x="148.27" y="589.10" font-family="'Liberation Serif', serif" font-size="15.04" font-weight="normal" fill="#2c2c2c" textLength="11.60" lengthAdjust="spacingAndGlyphs" >20</text>
<text x="180.06" y="589.10" font-family="'Liberation Serif', serif" font-size="15.04" font-weight="normal" fill="#2c2c2c" textLength="11.60" lengthAdjust="spacingAndGlyphs" >30</text>
<text x="211.84" y="589.10" font-family="'Liberation Serif', serif" font-size="15.04" font-weight="normal" fill="#2c2c2c" textLength="11.60" lengthAdjust="spacingAndGlyphs" >40</text>
<text x="243.63" y="589.10" font-family="'Liberation Serif', serif" font-size="15.04" font-weight="normal" fill="#2c2c2c" textLength="11.60" lengthAdjust="spacingAndGlyphs" >50</text>
<text x="275.42" y="589.10" font-family="'Liberation Serif', serif" font-size="15.04" font-weight="normal" fill="#2c2c2c" textLength="11.60" lengthAdjust="spacingAndGlyphs" >60</text>
<text x="307.20" y="589.10" font-family="'Liberation Serif', serif" font-size="15.04" font-weight="normal" fill="#2c2c2c" textLength="11.60" lengthAdjust="spacingAndGlyphs" >70</text>
<text x="338.99" y="589.10" font-family="'Liberation Serif', serif" font-size="15.04" font-weight="normal" fill="#2c2c2c" textLength="11.60" lengthAdjust="spacingAndGlyphs" >80</text>
<text x="370.77" y="589.10" font-family="'Liberation Serif', serif" font-size="15.04" font-weight="normal" fill="#2c2c2c" textLength="11.60" lengthAdjust="spacingAndGlyphs" >90</text>
<text x="399.66" y="589.10" font-family="'Liberation Serif', serif" font-size="15.04" font-weight="normal" fill="#2c2c2c" textLength="17.40" lengthAdjust="spacingAndGlyphs" >100</text>
<text x="431.45" y="589.10" font-family="'Liberation Serif', serif" font-size="15.04" font-weight="normal" fill="#2c2c2c" textLength="17.40" lengthAdjust="spacingAndGlyphs" >110</text>
<text x="463.23" y="589.10" font-family="'Liberation Serif', serif" font-size="15.04" font-weight="normal" fill="#2c2c2c" textLength="17.40" lengthAdjust="spacingAndGlyphs" >120</text>
<text x="495.02" y="589.10" font-family="'Liberation Serif', serif" font-size="15.04" font-weight="normal" fill="#2c2c2c" textLength="17.40" lengthAdjust="spacingAndGlyphs" >130</text>
<text x="526.80" y="589.10" font-family="'Liberation Serif', serif" font-size="15.04" font-weight="normal" fill="#2c2c2c" textLength="17.40" lengthAdjust="spacingAndGlyphs" >140</text>
<text x="554.50" y="588.60" font-family="'Liberation Serif', serif" font-size="14.29" font-weight="normal" fill="#2c2c2c" textLength="42.80" lengthAdjust="spacingAndGlyphs" >Q[l/min]</text>
<text x="87.35" y="18.70" font-family="'Liberation Serif', serif" font-size="14.74" font-weight="normal" fill="#2c2c2c" textLength="6.30" lengthAdjust="spacingAndGlyphs" >0</text>
<text x="204.52" y="18.70" font-family="'Liberation Serif', serif" font-size="14.74" font-weight="normal" fill="#2c2c2c" textLength="12.60" lengthAdjust="spacingAndGlyphs" >10</text>
<text x="324.85" y="18.70" font-family="'Liberation Serif', serif" font-size="14.74" font-weight="normal" fill="#2c2c2c" textLength="12.60" lengthAdjust="spacingAndGlyphs" >20</text>
<text x="445.17" y="18.70" font-family="'Liberation Serif', serif" font-size="14.74" font-weight="normal" fill="#2c2c2c" textLength="12.60" lengthAdjust="spacingAndGlyphs" >30</text>
<text x="127.50" y="18.70" font-family="'Liberation Serif', serif" font-size="14.29" font-weight="normal" fill="#2c2c2c" textLength="47.50" lengthAdjust="spacingAndGlyphs" >U.S.GPM</text>
<text x="584.70" y="570.10" font-family="'Liberation Serif', serif" font-size="15.04" font-weight="normal" fill="#2c2c2c" textLength="6.00" lengthAdjust="spacingAndGlyphs" >0</text>
<text x="584.70" y="525.17" font-family="'Liberation Serif', serif" font-size="15.04" font-weight="normal" fill="#2c2c2c" textLength="18.00" lengthAdjust="spacingAndGlyphs" >100</text>
<text x="584.70" y="480.24" font-family="'Liberation Serif', serif" font-size="15.04" font-weight="normal" fill="#2c2c2c" textLength="18.00" lengthAdjust="spacingAndGlyphs" >200</text>
<text x="584.70" y="435.32" font-family="'Liberation Serif', serif" font-size="15.04" font-weight="normal" fill="#2c2c2c" textLength="18.00" lengthAdjust="spacingAndGlyphs" >300</text>
<text x="584.70" y="390.39" font-family="'Liberation Serif', serif" font-size="15.04" font-weight="normal" fill="#2c2c2c" textLength="18.00" lengthAdjust="spacingAndGlyphs" >400</text>
<text x="584.70" y="345.46" font-family="'Liberation Serif', serif" font-size="15.04" font-weight="normal" fill="#2c2c2c" textLength="18.00" lengthAdjust="spacingAndGlyphs" >500</text>
<text x="584.70" y="300.53" font-family="'Liberation Serif', serif" font-size="15.04" font-weight="normal" fill="#2c2c2c" textLength="18.00" lengthAdjust="spacingAndGlyphs" >600</text>
<text x="584.70" y="255.61" font-family="'Liberation Serif', serif" font-size="15.04" font-weight="normal" fill="#2c2c2c" textLength="18.00" lengthAdjust="spacingAndGlyphs" >700</text>
<text x="584.70" y="210.68" font-family="'Liberation Serif', serif" font-size="15.04" font-weight="normal" fill="#2c2c2c" textLength="18.00" lengthAdjust="spacingAndGlyphs" >800</text>
<text x="584.70" y="165.75" font-family="'Liberation Serif', serif" font-size="15.04" font-weight="normal" fill="#2c2c2c" textLength="18.00" lengthAdjust="spacingAndGlyphs" >900</text>
<text x="584.70" y="120.82" font-family="'Liberation Serif', serif" font-size="15.04" font-weight="normal" fill="#2c2c2c" textLength="24.00" lengthAdjust="spacingAndGlyphs" >1000</text>
<text x="584.70" y="75.90" font-family="'Liberation Serif', serif" font-size="15.04" font-weight="normal" fill="#2c2c2c" textLength="24.00" lengthAdjust="spacingAndGlyphs" >1100</text>
<text x="585.30" y="38.80" font-family="'Liberation Serif', serif" font-size="15.04" font-weight="normal" fill="#2c2c2c" textLength="24.00" lengthAdjust="spacingAndGlyphs" >H[ft]</text>
<rect x="451.5" y="34" width="115.79" height="70.3" fill="#d3effa" stroke="#1c2226" stroke-width="1.35"/>
<text x="481.40" y="61.80" font-family="'Liberation Sans', sans-serif" font-size="19.97" font-weight="bold" fill="#1e1e1e" textLength="60.30" lengthAdjust="spacingAndGlyphs" stroke="#1e1e1e" stroke-width="0.7">ST 25</text>
<text x="493.80" y="76.40" font-family="'Liberation Sans', sans-serif" font-size="14.39" font-weight="normal" fill="#2a2a2a" textLength="35.30" lengthAdjust="spacingAndGlyphs" stroke="#2a2a2a" stroke-width="0.25">50Hz</text>
<text x="466.70" y="90.60" font-family="'Liberation Sans', sans-serif" font-size="11.31" font-weight="normal" fill="#333" textLength="89.70" lengthAdjust="spacingAndGlyphs" >ISO 9906 Annex A</text>
<rect x="103.5" y="141.90" width="19.70" height="11.8" fill="url(#lb)" stroke="#8a9cbc" stroke-width="0.9"/>
<text x="113.35" y="150.90" font-family="'Liberation Sans', sans-serif" font-size="8.9" font-weight="bold" fill="#16296a" stroke="#16296a" stroke-width="0.12" letter-spacing="0.3" text-anchor="middle">44</text>
<rect x="103.5" y="188.30" width="19.90" height="11.8" fill="url(#lb)" stroke="#8a9cbc" stroke-width="0.9"/>
<text x="113.45" y="197.30" font-family="'Liberation Sans', sans-serif" font-size="8.9" font-weight="bold" fill="#16296a" stroke="#16296a" stroke-width="0.12" letter-spacing="0.3" text-anchor="middle">40</text>
<rect x="103.5" y="255.90" width="19.90" height="11.8" fill="url(#lb)" stroke="#8a9cbc" stroke-width="0.9"/>
<text x="113.45" y="264.90" font-family="'Liberation Sans', sans-serif" font-size="8.9" font-weight="bold" fill="#16296a" stroke="#16296a" stroke-width="0.12" letter-spacing="0.3" text-anchor="middle">32</text>
<rect x="103.5" y="328.70" width="53.90" height="11.8" fill="url(#lb)" stroke="#8a9cbc" stroke-width="0.9"/>
<text x="106.8" y="337.70" font-family="'Liberation Sans', sans-serif" font-size="8.9" font-weight="bold" fill="#16296a" stroke="#16296a" stroke-width="0.12" textLength="46.2" lengthAdjust="spacing">24 <tspan fill="#801838" stroke="#801838">(70-111)</tspan></text>
<rect x="103.5" y="399.80" width="53.60" height="11.8" fill="url(#lb)" stroke="#8a9cbc" stroke-width="0.9"/>
<text x="106.8" y="408.80" font-family="'Liberation Sans', sans-serif" font-size="8.9" font-weight="bold" fill="#16296a" stroke="#16296a" stroke-width="0.12" textLength="40.8" lengthAdjust="spacing">16 <tspan fill="#801838" stroke="#801838">(70-77)</tspan></text>
<rect x="103.5" y="437.60" width="53.60" height="11.8" fill="url(#lb)" stroke="#8a9cbc" stroke-width="0.9"/>
<text x="106.8" y="446.60" font-family="'Liberation Sans', sans-serif" font-size="8.9" font-weight="bold" fill="#16296a" stroke="#16296a" stroke-width="0.12" textLength="40.8" lengthAdjust="spacing">12 <tspan fill="#801838" stroke="#801838">(80-49)</tspan></text>
<rect x="103.5" y="475.40" width="53.60" height="11.8" fill="url(#lb)" stroke="#8a9cbc" stroke-width="0.9"/>
<text x="106.8" y="484.40" font-family="'Liberation Sans', sans-serif" font-size="8.9" font-weight="bold" fill="#16296a" stroke="#16296a" stroke-width="0.12" textLength="40.8" lengthAdjust="spacing">08 <tspan fill="#801838" stroke="#801838">(70-35)</tspan></text>
<rect x="103.5" y="494.70" width="19.70" height="11.8" fill="url(#lb)" stroke="#8a9cbc" stroke-width="0.9"/>
<text x="113.35" y="503.70" font-family="'Liberation Sans', sans-serif" font-size="8.9" font-weight="bold" fill="#16296a" stroke="#16296a" stroke-width="0.12" letter-spacing="0.3" text-anchor="middle">06</text>
<rect x="103.5" y="515.10" width="19.70" height="11.8" fill="url(#lb)" stroke="#8a9cbc" stroke-width="0.9"/>
<text x="113.35" y="524.10" font-family="'Liberation Sans', sans-serif" font-size="8.9" font-weight="bold" fill="#16296a" stroke="#16296a" stroke-width="0.12" letter-spacing="0.3" text-anchor="middle">04</text>
</svg></body></html>
